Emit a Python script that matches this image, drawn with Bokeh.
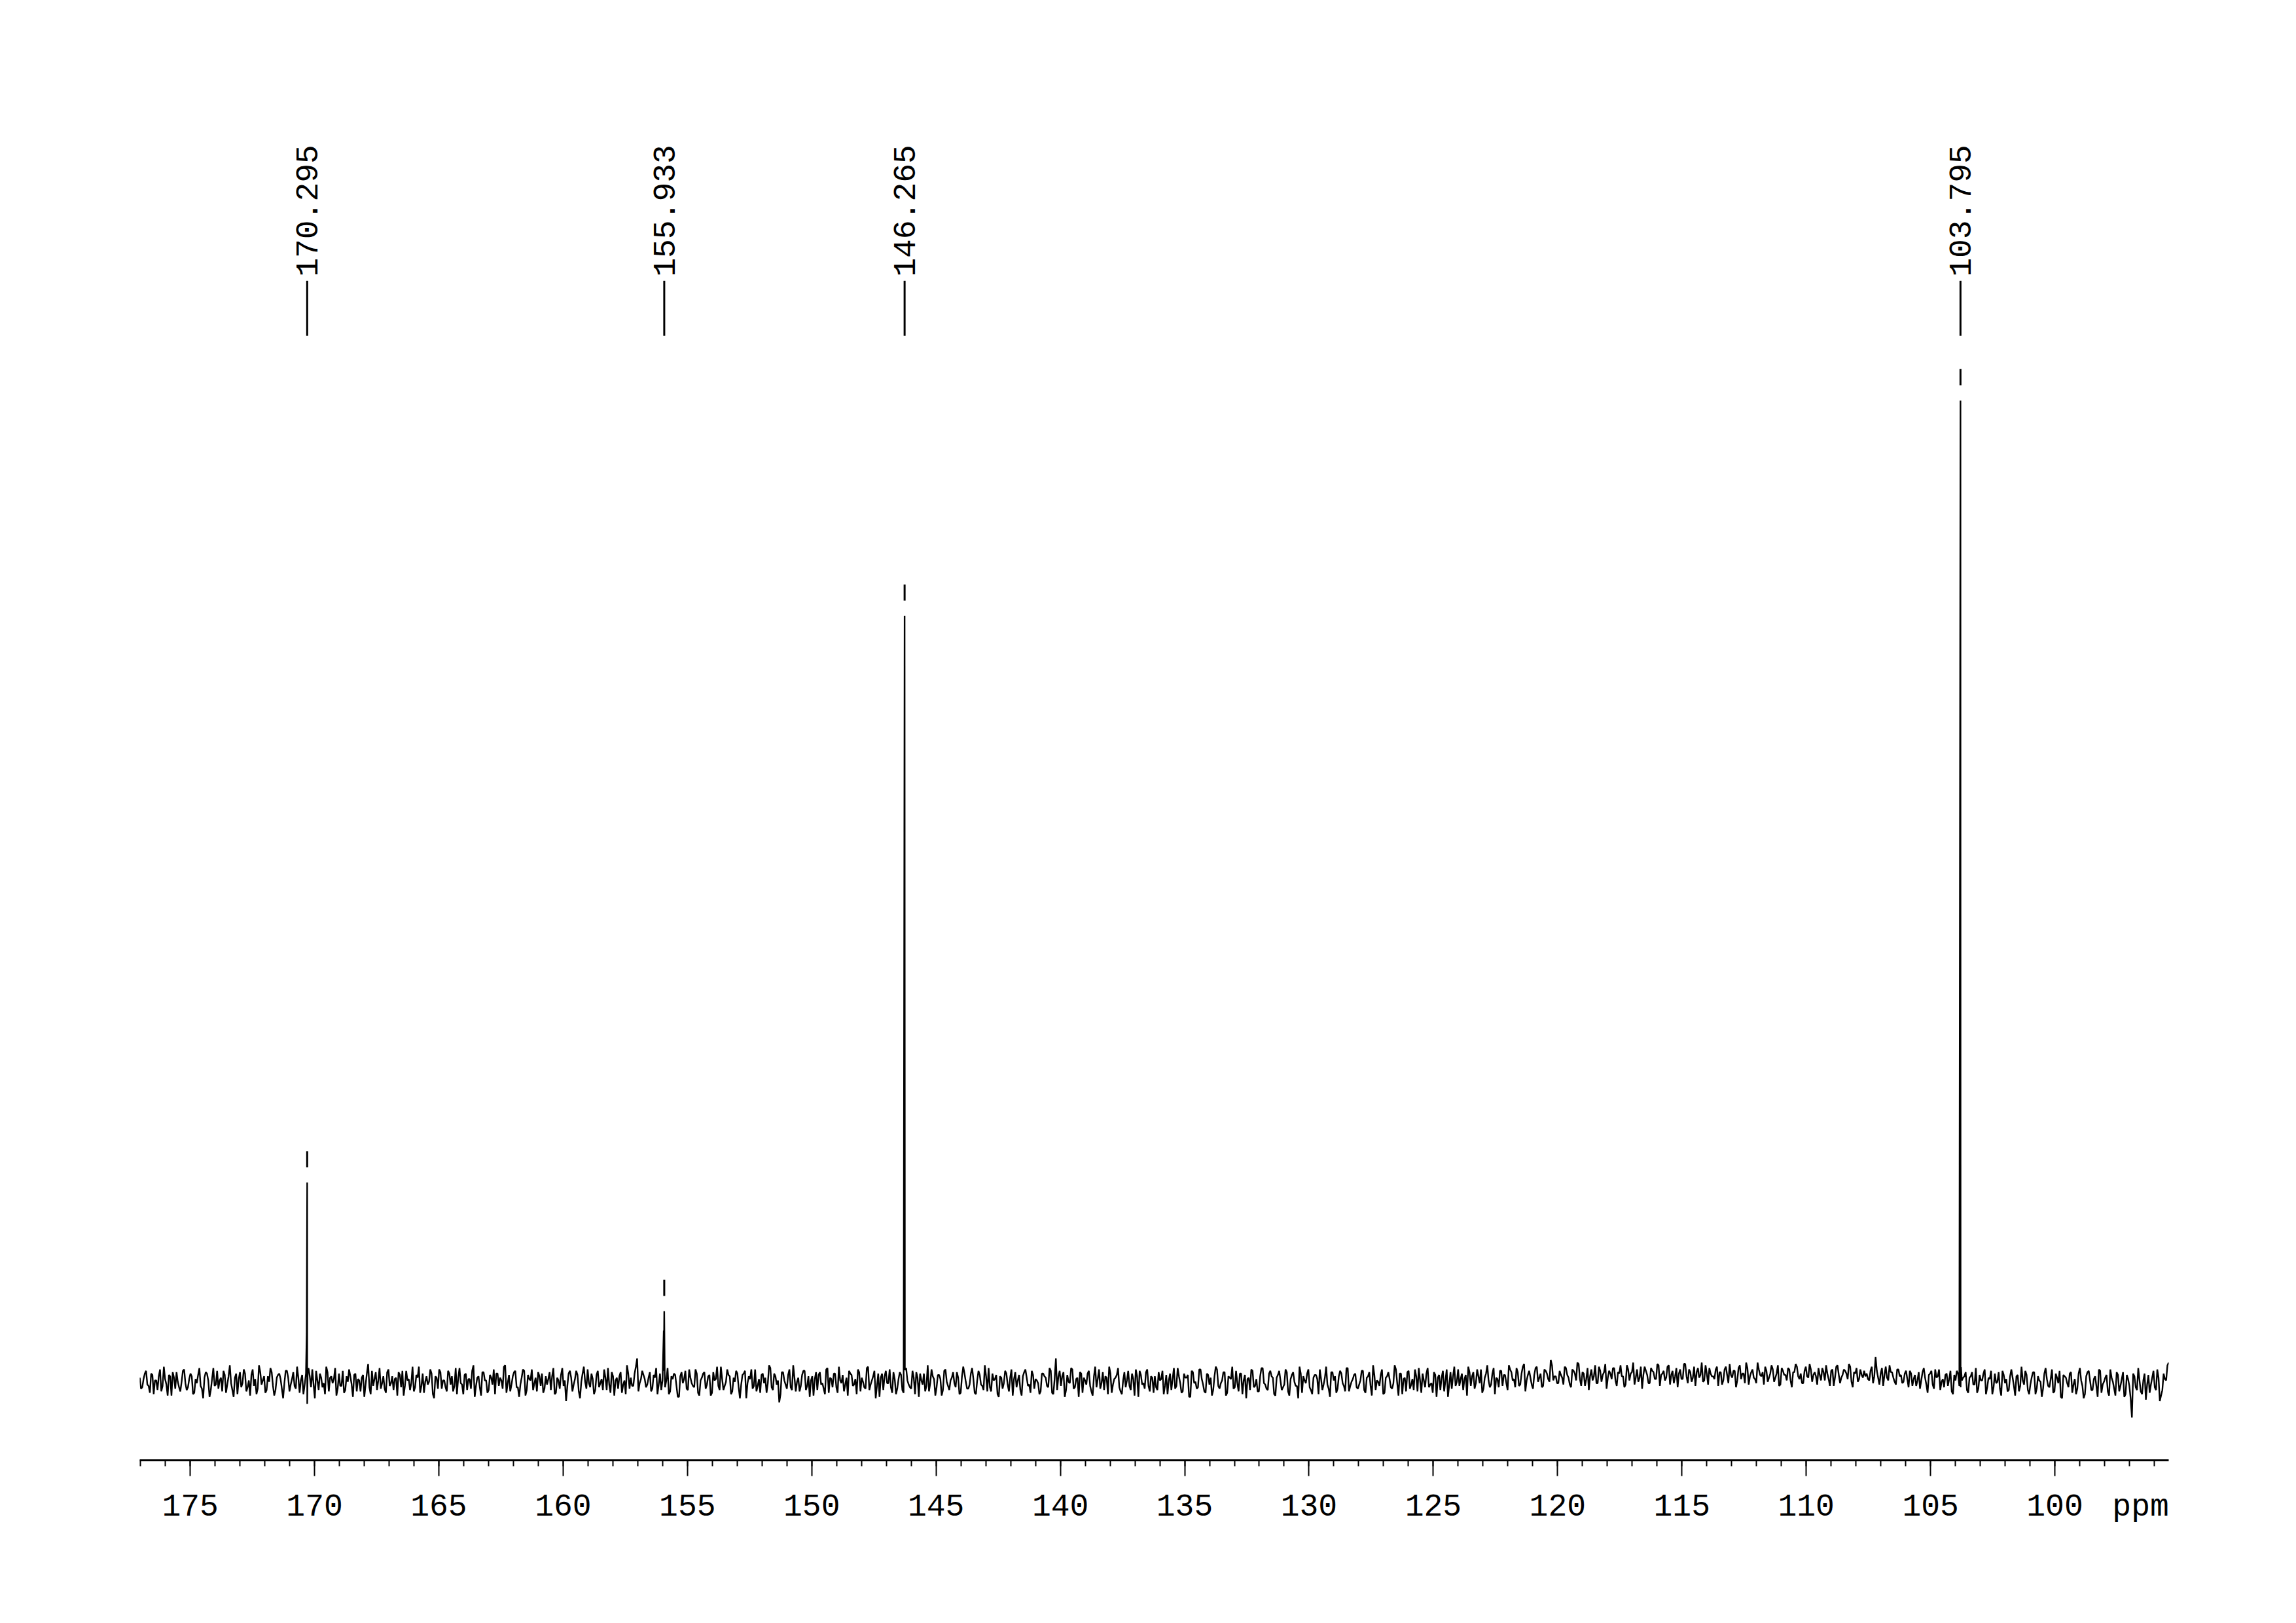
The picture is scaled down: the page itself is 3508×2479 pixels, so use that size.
import numpy as np
from bokeh.plotting import figure
from bokeh.models import Range1d, FixedTicker, ColumnDataSource, LinearAxis, CustomLabelingPolicy
from bokeh.embed import file_html
from bokeh.resources import INLINE
from bokeh.core.properties import value

# ---------------- data ----------------
ppm_left = 177.03
ppm_right = 95.42

tick_values = [175, 170, 165, 160, 155, 150, 145, 140, 135, 130, 125, 120, 115, 110, 105, 100]
tick_labels = ["175", "170", "165", "160", "155", "150", "145", "140", "135", "130",
               "125", "120", "115", "110", "105", "100"]
minor_tick_values = list(range(96, 178))
unit_label = "ppm"
unit_label_ppm = 96.55

peak_ppm = [170.295, 155.933, 146.265, 103.795]
peak_height = [20.3, 7.2, 78.05, 100.0]
peak_shoulder = [4.9, 5.2, 38.6, 59.0]
peak_foot = [1.0, 0.8, 1.2, 1.5]
peak_labels = ["170.295", "155.933", "146.265", "103.795"]

# baseline noise (counts), read left (177 ppm) to right (95.4 ppm)
# even samples
noise_a = [
    3, -4, 6, -2, -8, 5, 1, -6, 9, -3, 2, -10, 4, 7, -5, 0, -7, 8, -1, -4,
    6, -9, 2, 5, -3, -12, 7, 1, -6, 10, -2, -5, 3, 8, -8, 4, -1, -11, 6, 2,
    -4, 9, -7, 1, 5, -3, -9, 12, -2, 4, -6, 0, 7, -10, 3, 6, -5, -1, 8, -7,
    2, -3, 11, -8, 5, -2, -16, 4, 9, -12, 1, 6, -4, -9, 7, 3, -1, 10, -5, -3,
    8, -6, 0, 4, -11, 6, 2, -7, 5, -2, 13, -9, -3, 7, 1, -5, 4, -8, 9, -1,
    -6, 3, 7, -4, -10, 8, 2, -1, -7, 5, 11, -3, -8, 4, 0, 6, -12, 3, 9, -5,
    1, -7, 6, 4, -3, -9, 10, -2, 5, -6, 2, 8, -11, 3, -4, 7, 1, -8, 5, -2,
    -9, 6, 3, -5, 12, -1, -7, 4, 8, -4, -2, 9, -10, 5, 1, -6, 3, 7, -3, -8,
    4, 2, -6, 10, -8, 1, 5, -3, -14, 6, 3, -2, 8, -7, 0, 11, -5, -1, 6, -9,
    5, -4, 2, 9, -6, -2, 7, -10, 3, 4, -8, 1, 12, -5, -3, 6, 17, -1, 8, 2,
]
noise_b = [
    -2, 7, -5, 3, -9, 6, 1, -4, 10, -7, 2, 5, -11, 4, -1, 8, -6, 3, -3, 9,
    -8, 1, 6, -5, 4, -10, 7, 2, -3, 11, -6, 0, 5, -9, 3, 8, -4, -2, 6, -12,
    4, 9, -3, -7, 2, 5, -1, -8, 12, -4, 6, -2, -15, 7, 1, -5, 9, -6, 3, 0,
    -7, 5, 8, -3, -11, 4, 2, -6, 7, -1, -9, 10, 3, -4, 6, -8, 1, 5, -2, -10,
    6, -3, 2, 9, -7, 0, -5, 11, -2, 4, -12, 6, 3, -6, 8, -1, -4, 7, -9, 2,
    5, -8, 10, -2, -5, 3, 7, -11, 1, 6, -3, -7, 9, 2, -4, 5, -10, 8, 0, -6,
    3, -1, 7, -9, 4, 6, -5, -2, 10, -8, 1, 5, -3, 12, -7, -4, 6, 2, -9, 4,
    -5, 8, -2, 3, -10, 7, 1, -6, 4, 9, -3, -8, 5, 2, -1, -7, 6, 3, -4, 8,
    -9, 17, 4, -3, 7, -6, 0, 10, -5, 2, -11, 6, 3, -2, 8, -7, 4, -4, 9, -1,
    -6, 3, 11, -8, 2, 5, -4, -9, 7, 1, -3, 6, -10, 4, 8, -2, -5, 9, -7, 3,
]
noise_c = [
    4, -6, 1, 8, -3, -9, 6, 2, -5, 10, -1, -7, 3, 5, -11, 7, 0, -4, 9, -2,
    -8, 5, 3, -6, 11, -3, -1, 7, -10, 4, 2, -5, 8, -7, 6, 1, -12, 3, 9, -4,
    2, -7, 10, -1, -5, 6, 4, -9, 3, 8, -6, -2, 7, -10, 5, 0, -3, 11, -8, 1,
    6, -4, -9, 5, 2, 9, -6, 3, -2, -11, 7, 4, -5, 8, -1, -7, 10, -3, 2, 6,
    -5, 1, 8, -8, 4, -3, 12, -6, 0, 5, -9, 3, 7, -4, -1, 9, -10, 6, 2, -7,
    8, -2, -6, 4, 10, -8, 1, 6, -4, -1, 7, -11, 5, 3, -7, 9, -2, -5, 11, 0,
    -3, 6, 2, -10, 7, 4, -5, 9, -1, -8, 3, 12, -4, 6, -9, 2, 8, -3, 5, -6,
    9, 1, -4, 7, -2, 11, -7, 5, 3, -5, 10, 0, 6, -3, 8, 2, 16, 1, 4, -1,
    5, -2, 10, 3, -4, 8, 1, 13, -3, 6, 2, -6, 9, 4, -1, 11, 0, 7, -5, 8,
    2, 10, -3, 6, 4, -4, 12, 1, 7, -2, 9, 3, -5, 11, 5, -1, 8, 2, 13, -3,
]
noise_d = [
    6, 1, 11, -2, 8, 4, -4, 9, 2, 13, -1, 7, 3, -3, 10, 5, 0, 12, -2, 6,
    4, 9, -3, 7, 1, 11, -1, 5, 8, -4, 10, 2, 6, 14, -2, 7, 3, -1, 9, 4,
    -2, 8, 3, 12, 0, 6, -3, 10, 5, 1, 9, -4, 7, 11, 2, -1, 8, 4, 13, 0,
    7, -2, 5, 10, 1, 6, -3, 9, 3, 12, -1, 5, 8, 2, 11, -4, 6, 0, 9, 3,
    4, 2, 8, -1, 18, 3, 6, -3, 11, 1, 7, 3, -2, 9, 5, 0, 8, -4, 6, 2,
    -3, 7, 1, 10, -2, 5, 8, -5, 3, 9, 0, -4, 6, 2, -7, 5, 8, -3, 1, 4,
    -6, 3, 7, -2, -8, 5, 1, 9, -4, 2, -9, 6, 0, -5, 8, -1, -7, 4, 3, -10,
    5, -3, 1, 8, -6, -2, 7, -9, 4, 0, -5, 10, -3, 2, -8, 6, -1, -11, 5, 3,
    -4, 7, -2, -9, 6, 1, -12, 4, 8, -6, 2, -3, 9, -8, 0, 5, -10, 3, -5, 7,
    -7, 2, -11, 5, -3, -26, 4, -6, 1, -9, 6, -2, -8, 3, -4, 9, -14, -6, 2, 12,
]
# odd samples
noise_e = [
    -5, 2, 8, -3, 6, -9, 1, 4, -7, 11, -2, 5, -10, 3, 7, -4, 0, 9, -6, 2,
    4, -8, -1, 10, -5, 3, 6, -11, 2, -3, 8, 1, -7, 5, -2, 12, -6, 3, -9, 7,
    -1, 6, -4, -10, 9, 2, -5, 7, 1, -8, 4, 10, -3, -6, 5, 2, -12, 8, 3, -2,
    7, -5, 3, 1, -9, 6, 10, -4, -2, 8, -6, 3, -1, 11, -7, 4, 2, -10, 6, -3,
    -8, 4, 9, -2, 5, -7, 1, 3, -11, 6, -4, 8, 2, -6, 10, -1, -5, 7, -3, 4,
    2, -10, 5, 8, -3, 1, -6, 11, -4, 3, -8, 6, 0, -2, 9, -9, 4, -5, 7, 1,
    -4, 8, -2, -7, 10, 3, -1, -9, 6, 2, -5, 12, -3, 4, -10, 7, 1, -6, 3, 9,
    6, -3, 1, 11, -8, 5, -2, 7, -4, -11, 3, 8, -6, 2, 9, -1, -7, 4, 6, -5,
    -2, 7, 4, -9, 3, -5, 10, 1, -3, 8, -7, 2, 5, -12, 6, 0, 9, -4, 2, -6,
    8, -1, -6, 3, 10, -8, 4, 1, -5, 7, -2, -9, 6, 3, -3, 11, -7, 2, 5, -4,
]
noise_f = [
    3, -7, 5, 10, -2, -6, 8, 1, -9, 4, 6, -3, -11, 7, 2, -5, 9, -1, -4, 6,
    -10, 3, 7, -2, 5, -8, 1, 11, -6, 2, -3, 9, 4, -7, 0, 6, -12, 5, 8, -1,
    2, -5, 9, -3, -8, 6, 3, -1, 10, -6, 4, 1, -9, 7, -2, 5, -4, 12, -7, 3,
    -3, 8, -6, 4, 1, -10, 7, 5, -2, -5, 9, -8, 2, 6, -4, 11, -1, -7, 3, 8,
    5, -2, -9, 7, 3, -4, 10, -6, 1, 8, -3, -11, 6, 4, -1, 9, -8, 2, -5, 7,
    -6, 10, 1, -4, 8, -9, 3, 6, -2, -7, 12, -1, 4, -10, 5, 2, -6, 9, -3, 1,
    7, -4, 3, -8, 11, 0, -5, 6, 2, -9, 8, -2, -6, 4, 10, -7, 1, 5, -11, 3,
    -1, 6, -7, 9, 2, -4, 5, -10, 7, 3, -2, 8, -5, 1, -9, 6, 4, -3, 10, -8,
    2, -6, 8, 4, -11, 5, -1, 9, -4, 3, 7, -8, 1, 6, -3, -10, 11, 2, -5, 7,
    4, -9, 6, -2, 3, 10, -7, 1, -4, 8, -6, 2, 9, -11, 5, -1, 7, -3, 4, -8,
]
noise_g = [
    -4, 7, 2, -9, 5, 1, -6, 10, -3, 4, -8, 6, 3, -11, 8, -1, -5, 9, 2, -7,
    6, -2, -10, 4, 9, -5, 1, 7, -8, 3, 11, -4, -1, 6, -9, 5, 2, -6, 8, -3,
    -7, 4, 10, -2, -6, 8, 3, -10, 5, 1, -4, 9, -7, 2, 7, -3, -12, 6, 4, -1,
    9, -6, 3, 5, -9, 2, -2, 11, -5, 7, 1, -8, 4, 6, -3, 10, -7, 0, 5, -4,
    -2, 8, -6, 3, 7, -10, 5, 1, -3, 9, -8, 4, 2, -5, 12, -1, 6, -9, 3, 7,
    -5, 2, 9, -7, 1, 6, -4, 10, -2, -8, 5, 3, -6, 8, 1, -11, 7, 4, -3, 9,
    2, -6, 5, 11, -3, 7, -1, 4, 9, -5, 6, 1, -2, 10, 3, -4, 8, 5, -1, 12,
    7, 2, 10, -3, 6, 13, 1, 8, -2, 5, 11, 3, -4, 9, 6, 0, 12, 4, -1, 8,
    3, 11, 5, -2, 9, 6, 14, 2, 7, -3, 10, 4, 1, 12, -1, 8, 5, 13, 3, 6,
    10, 1, 7, 12, 4, -2, 9, 6, 14, 3, 0, 11, 5, 8, -1, 10, 7, 2, 12, 5,
]
noise_h = [
    8, 3, 12, 5, -1, 10, 6, 2, 13, 4, 9, 0, 11, 7, 3, 14, 1, 6, 10, 4,
    2, 11, 7, -2, 9, 5, 13, 3, 8, 1, 12, 6, -1, 10, 4, 9, 2, 14, 5, 7,
    11, 0, 6, 9, 3, 12, -2, 8, 5, 10, 1, 7, 13, 4, 6, -1, 11, 3, 9, 5,
    4, 10, 1, 7, 12, 2, 8, -3, 11, 5, 3, 9, 6, 13, 0, 7, 10, 2, 5, 8,
    6, 1, 11, 4, 8, -2, 10, 5, 3, 12, 7, 0, 9, 4, -1, 6, 2, 8, -3, 5,
    1, -5, 7, 3, -8, 6, -2, 9, 4, -6, 2, 5, -3, 8, -9, 1, 6, -4, 3, 7,
    -8, 4, -2, 10, -5, 1, 6, -9, 3, 8, -4, -1, 7, -10, 5, 2, -6, 9, -3, 4,
    -7, 11, -2, 5, -9, 3, 7, -5, 1, -11, 6, 2, -4, 9, -7, 3, 8, -12, 4, -1,
    6, -8, 2, -5, 10, -3, -9, 7, 1, -6, 4, -11, 8, -2, 3, -7, 9, 0, -10, 5,
    -3, 7, -9, 2, -12, 6, -4, 10, -7, 1, -13, 5, -2, 8, -6, 3, -10, 6, 1, 14,
]

# ---------------- layout constants (pixel geometry -> data units) ----------------
Y_START, Y_END = -8.0, 128.1
NOISE_UNIT = 0.14
LABEL_LINE_Y0, LABEL_LINE_Y1 = 106.6, 112.2
LABEL_TEXT_Y = 112.6
MARK_GAP, MARK_LEN = 1.55, 1.65
FONT = "Liberation Mono"
FONT_SIZE = "48px"

# ---------------- spectrum trace ----------------
even = noise_a + noise_b + noise_c + noise_d
odd = noise_e + noise_f + noise_g + noise_h
n = min(len(even), len(odd))
noise = np.empty(2 * n)
noise[0::2] = np.array(even[:n], dtype=float) * NOISE_UNIT
noise[1::2] = np.array(odd[:n], dtype=float) * NOISE_UNIT
x_noise = np.linspace(ppm_left, ppm_right, len(noise))
xs = list(x_noise)
ys = list(noise)
for pp, h, s, f in zip(peak_ppm, peak_height, peak_shoulder, peak_foot):
    xs += [pp + 0.02, pp, pp - 0.02]
    ys += [s, h, f]
xs = np.array(xs)
ys = np.array(ys)
order = np.argsort(-xs)
spec = ColumnDataSource(dict(x=xs[order], y=ys[order]))

p = figure(width=3490, height=2460, output_backend="svg", toolbar_location=None,
           x_range=Range1d(ppm_left, ppm_right), y_range=Range1d(Y_START, Y_END),
           min_border_left=213, min_border_right=177, min_border_top=190,
           min_border_bottom=230, y_axis_location=None, x_axis_location=None,
           background_fill_color="white", border_fill_color="white")
p.outline_line_color = None
p.xgrid.visible = False
p.ygrid.visible = False

p.line("x", "y", source=spec, line_color="black", line_width=2.4)

# peak-pick markers and peak labels
pk = ColumnDataSource(dict(
    x=peak_ppm,
    m0=[h + MARK_GAP for h in peak_height],
    m1=[h + MARK_GAP + MARK_LEN for h in peak_height],
    l0=[LABEL_LINE_Y0] * len(peak_ppm),
    l1=[LABEL_LINE_Y1] * len(peak_ppm),
    ty=[LABEL_TEXT_Y] * len(peak_ppm),
    txt=peak_labels,
))
p.segment(x0="x", y0="m0", x1="x", y1="m1", source=pk, line_color="black",
          line_width=3, line_cap="butt")
p.segment(x0="x", y0="l0", x1="x", y1="l1", source=pk, line_color="black",
          line_width=3, line_cap="butt")
p.text(x="x", y="ty", text="txt", source=pk, angle=np.pi / 2,
       text_align="left", text_baseline="middle", text_color="black",
       text_font=value(FONT), text_font_size=value(FONT_SIZE))

# x axis: line and tick marks only (its labels are suppressed)
ax1 = LinearAxis(ticker=FixedTicker(ticks=tick_values, minor_ticks=minor_tick_values))
ax1.axis_line_width = 3
ax1.axis_line_color = "black"
ax1.major_tick_line_width = 2
ax1.major_tick_line_color = "black"
ax1.major_tick_in = 0
ax1.major_tick_out = 24
ax1.minor_tick_line_width = 2
ax1.minor_tick_line_color = "black"
ax1.minor_tick_in = 0
ax1.minor_tick_out = 9
ax1.major_label_text_font_size = "0px"
ax1.major_label_standoff = 0
ax1.major_label_policy = CustomLabelingPolicy(code="return new Set()")
p.add_layout(ax1, "below")

# x axis: tick labels and unit label on one row (no marks)
ax2 = LinearAxis(ticker=FixedTicker(ticks=tick_values + [unit_label_ppm]))
labels = {v: s for v, s in zip(tick_values, tick_labels)}
labels[unit_label_ppm] = unit_label
ax2.major_label_overrides = labels
ax2.axis_line_color = None
ax2.major_tick_line_color = None
ax2.minor_tick_line_color = None
ax2.major_tick_in = 0
ax2.major_tick_out = 0
ax2.minor_tick_in = 0
ax2.minor_tick_out = 0
ax2.major_label_text_font = FONT
ax2.major_label_text_font_size = FONT_SIZE
ax2.major_label_text_color = "black"
ax2.major_label_standoff = 20
p.add_layout(ax2, "below")

open("out.html", "w").write(file_html(p, INLINE))
